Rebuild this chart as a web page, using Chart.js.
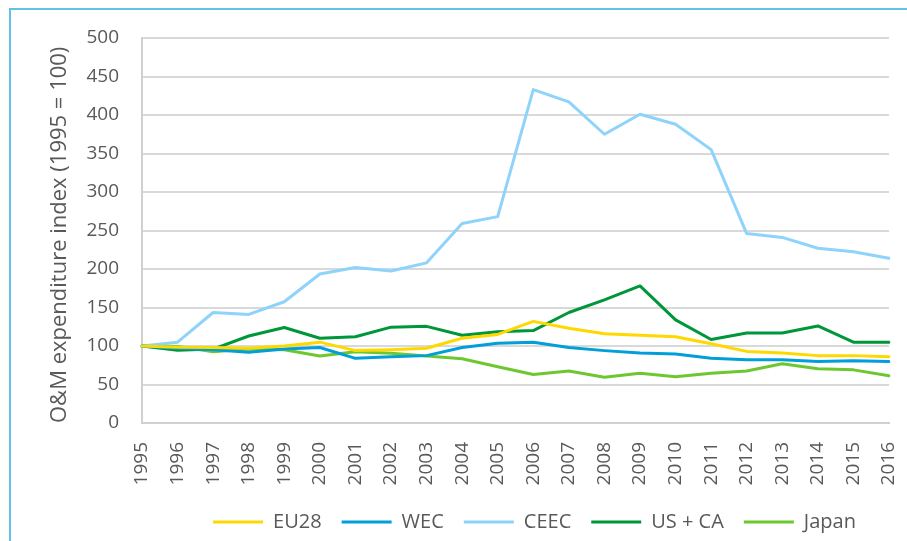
<!DOCTYPE html>
<html>
<head>
<meta charset="utf-8">
<script src="https://cdn.jsdelivr.net/npm/chart.js@4.4.1/dist/chart.umd.min.js"></script>
<style>
html,body{margin:0;padding:0;background:#ffffff;overflow:hidden;}
#frame{position:absolute;left:9px;top:8px;width:1000px;height:1000px;border-left:2px solid #62C0EA;border-top:2px solid #62C0EA;}
#wrap{position:absolute;left:0;top:0;width:907px;height:541px;}
</style>
</head>
<body>
<div id="frame"></div>
<div id="wrap"><canvas id="c" width="907" height="541"></canvas></div>
<script>
const years = ['1995','1996','1997','1998','1999','2000','2001','2002','2003','2004','2005','2006','2007','2008','2009','2010','2011','2012','2013','2014','2015','2016'];
const eu28 = [100, 98.5, 98, 97, 100, 105, 94, 95, 97, 110, 115, 132, 123, 116, 114, 112, 103, 93, 91, 87.5, 87.5, 86];
const wec  = [100, 97, 95, 92, 96, 98, 84, 86, 87.5, 98, 103.5, 105, 98, 94, 91, 89.5, 84, 82, 82, 80, 81, 80];
const ceec = [100, 105, 143.5, 141, 157.5, 193.5, 202, 197.5, 208, 259, 268, 433, 417, 375, 401, 388, 355, 246, 241, 227, 222.5, 214];
const usca = [100, 94.5, 96, 113, 124, 110, 112, 124.5, 125.5, 114, 118.5, 120, 143.5, 160, 178, 134, 108.5, 117, 117, 126, 105, 105];
const japan = [100, 99.5, 92.5, 96, 95, 87, 92.5, 90.5, 87, 83.5, 73, 63, 67.5, 59.5, 64.5, 60, 64.5, 67.5, 77, 70.5, 69, 61.5];
const seriesNames = ['EU28', 'WEC', 'CEEC', 'US + CA', 'Japan'];
const seriesColors = ['#FFD800', '#009FDA', '#8ED3FB', '#00963A', '#6DC830'];
const yTicks = [0, 50, 100, 150, 200, 250, 300, 350, 400, 450, 500];
const yTitle = 'O&M expenditure index (1995 = 100)';

const FONT = "'Open Sans', sans-serif";
const TXT = '#595959';
const seriesData = [eu28, wec, ceec, usca, japan];

const legendShift = {
  id: 'legendShift',
  afterLayout(chart) {
    if (chart.legend) { chart.legend.left += 19; chart.legend.right += 19; chart.legend.top += 1; chart.legend.bottom += 1; }
  }
};

new Chart(document.getElementById('c'), {
  type: 'line',
  data: {
    labels: years,
    datasets: seriesNames.map((name, i) => ({
      label: name,
      data: seriesData[i],
      borderColor: seriesColors[i],
      backgroundColor: seriesColors[i],
      borderWidth: 3,
      borderCapStyle: 'round',
      borderJoinStyle: 'round',
      pointRadius: 0,
      pointHoverRadius: 0,
      pointStyle: 'line',
      tension: 0,
      fill: false
    }))
  },
  options: {
    responsive: false,
    devicePixelRatio: 1,
    animation: false,
    layout: { padding: { left: 0, right: 18, top: 38, bottom: 0 } },
    plugins: {
      tooltip: { enabled: false },
      legend: {
        position: 'bottom',
        fullSize: false,
        labels: {
          usePointStyle: true,
          pointStyleWidth: 50,
          padding: 20,
          color: TXT,
          font: { family: FONT, size: 20 }
        }
      }
    },
    scales: {
      x: {
        type: 'category',
        offset: false,
        grid: { display: false, drawTicks: false },
        border: { display: true, color: '#d0d0d0', width: 2 },
        ticks: {
          autoSkip: false,
          minRotation: 90,
          maxRotation: 90,
          padding: 19,
          color: TXT,
          font: { family: FONT, size: 19 }
        },
        afterFit(s) { s.height = 68; s.paddingLeft = 0; s.paddingRight = 0; }
      },
      y: {
        min: 0,
        max: 500,
        afterBuildTicks(s) { s.ticks = yTicks.map(v => ({ value: v })); },
        grid: { color: '#d9d9d9', lineWidth: 2, drawTicks: false },
        border: { display: true, color: '#d0d0d0', width: 2 },
        ticks: {
          padding: 23,
          color: TXT,
          font: { family: FONT, size: 19 }
        },
        title: {
          display: true,
          text: yTitle,
          align: 'start',
          color: TXT,
          font: { family: FONT, size: 22 },
          padding: { top: 47, bottom: 0 }
        },
        afterFit(s) { s.width = 142; s.paddingTop = 0; s.paddingBottom = 0; }
      }
    }
  },
  plugins: [legendShift]
});
</script>
</body>
</html>
